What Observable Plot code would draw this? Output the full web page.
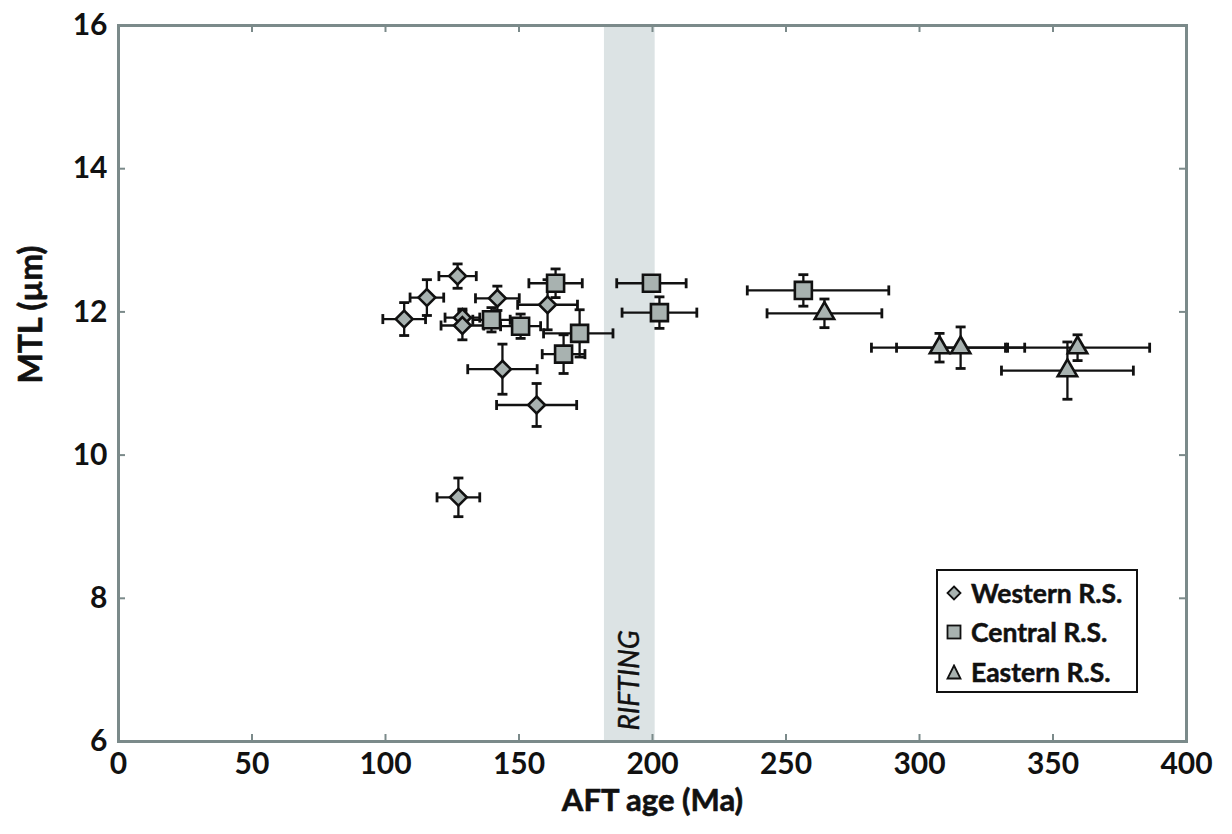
<!DOCTYPE html>
<html><head><meta charset="utf-8">
<script src="https://cdn.jsdelivr.net/npm/d3@7"></script>
<script src="https://cdn.jsdelivr.net/npm/@observablehq/plot@0.6"></script>
<style>
body{margin:0;background:#fff;font-family:Lato,"Open Sans",sans-serif;}
#chart{position:relative;width:1232px;height:834px;}
#legend{position:absolute;left:936px;top:569px;width:202px;height:124px;border:2.5px solid #111;background:#fff;box-sizing:border-box;font-weight:bold;font-size:26.5px;color:#111;padding-top:2px;-webkit-text-stroke:0.5px #111;}
#legend .row{height:39.5px;display:flex;align-items:center;}
#legend svg{margin-left:8px;margin-right:9px;}
</style></head>
<body>
<div id="chart"></div>
<script>
// ---- data ----
const westAge    = [107, 115.5, 127, 128.8, 128.8, 141.9, 160.7, 143.8, 156.6, 127.3];
const westMTL    = [11.9, 12.2, 12.5, 11.92, 11.81, 12.19, 12.1, 11.2, 10.7, 9.41];
const westAgeErr = [8, 6.3, 7, 6.5, 8, 8.2, 11.2, 13, 15, 8];
const westMTLErr = [0.23, 0.25, 0.17, 0.12, 0.2, 0.17, 0.35, 0.35, 0.3, 0.27];

const centAge         = [163.7, 139.7, 150.6, 172.7, 166.7, 199.6, 202.6, 256.5];
const centMTL         = [12.4, 11.89, 11.8, 11.7, 11.41, 12.4, 11.99, 12.3];
const centAgeErrMinus = [10, 7, 7.5, 13.5, 8, 13, 14, 21];
const centAgeErrPlus  = [10, 7, 7.5, 12.5, 8, 13, 14, 32];
const centMTLErr      = [0.2, 0.17, 0.17, 0.33, 0.27, 0.05, 0.22, 0.22];

const eastAge    = [264.4, 307.5, 315.4, 359.2, 355.4];
const eastMTL    = [11.98, 11.5, 11.5, 11.5, 11.18];
const eastAgeErr = [21.5, 25.5, 24, 27, 24.7];
const eastMTLErr = [0.2, 0.2, 0.29, 0.18, 0.4];

const riftingStart = 182, riftingEnd = 201;
const riftingLabel = "RIFTING";
const xTicks = [0, 50, 100, 150, 200, 250, 300, 350, 400];
const yTicks = [6, 8, 10, 12, 14, 16];
const xLabel = "AFT age (Ma)";
const yLabel = "MTL (µm)";
const seriesNames = ["Western R.S.", "Central R.S.", "Eastern R.S."];

// ---- build tables ----
function build(ages, mtls, errMinus, errPlus, mtlErr) {
  return ages.map((a, i) => ({
    age: a, mtl: mtls[i],
    ageLo: a - errMinus[i], ageHi: a + errPlus[i],
    mtlLo: mtls[i] - mtlErr[i], mtlHi: mtls[i] + mtlErr[i]
  }));
}
const west = build(westAge, westMTL, westAgeErr, westAgeErr, westMTLErr);
const cent = build(centAge, centMTL, centAgeErrMinus, centAgeErrPlus, centMTLErr);
const east = build(eastAge, eastMTL, eastAgeErr, eastAgeErr, eastMTLErr);

const W = 1232, H = 834, mL = 118, mR = 46, mT = 25, mB = 93;
const fw = W - mL - mR, fh = H - mT - mB;
const frameColor = "#7b8a8a";
const fillColor = "#a8b2b0";
const ink = "#111";

const capH = {draw(ctx, size) { const h = Math.sqrt(size) / 2; ctx.moveTo(-h, 0); ctx.lineTo(h, 0); }};
const capV = {draw(ctx, size) { const h = Math.sqrt(size) / 2; ctx.moveTo(0, -h); ctx.lineTo(0, h); }};
const capR = 10 / Math.sqrt(Math.PI);

function seriesMarks(data, symbol, r) {
  return [
    Plot.ruleY(data, {y: "mtl", x1: "ageLo", x2: "ageHi", stroke: ink, strokeWidth: 2.3}),
    Plot.ruleX(data, {x: "age", y1: "mtlLo", y2: "mtlHi", stroke: ink, strokeWidth: 2.3}),
    Plot.dot(data, {x: "ageLo", y: "mtl", symbol: capV, r: capR, fill: "none", stroke: ink, strokeWidth: 2.8}),
    Plot.dot(data, {x: "ageHi", y: "mtl", symbol: capV, r: capR, fill: "none", stroke: ink, strokeWidth: 2.8}),
    Plot.dot(data, {x: "age", y: "mtlLo", symbol: capH, r: capR, fill: "none", stroke: ink, strokeWidth: 2.8}),
    Plot.dot(data, {x: "age", y: "mtlHi", symbol: capH, r: capR, fill: "none", stroke: ink, strokeWidth: 2.8}),
    Plot.dot(data, {x: "age", y: "mtl", symbol, r, fill: fillColor, stroke: ink, strokeWidth: 2.6})
  ];
}

const textStroke = {stroke: ink, strokeWidth: 0.6};

const chart = Plot.plot({
  width: W, height: H,
  marginLeft: mL, marginRight: mR, marginTop: mT, marginBottom: mB,
  style: {fontFamily: "Lato, 'Open Sans', sans-serif", fontWeight: "bold", fontSize: "30px", color: "#111", background: "#fff"},
  x: {domain: [0, 400], ticks: xTicks},
  y: {domain: [6, 16], ticks: yTicks},
  marks: [
    Plot.rect([{x1: riftingStart, x2: riftingEnd}], {x1: "x1", x2: "x2", fill: "#dce3e4"}),
    Plot.text([{x: (riftingStart + riftingEnd) / 2, t: riftingLabel}], {
      x: "x", text: "t", frameAnchor: "bottom", rotate: -90, textAnchor: "start", lineAnchor: "middle",
      dy: -11, fontStyle: "italic", fontWeight: "normal", fontSize: 28, fill: ink, stroke: ink, strokeWidth: 0.4
    }),
    // inward ticks on all four sides
    Plot.tickX(xTicks, {x: d => d, insetTop: fh - 7, stroke: frameColor, strokeWidth: 2}),
    Plot.tickX(xTicks, {x: d => d, insetBottom: fh - 7, stroke: frameColor, strokeWidth: 2}),
    Plot.tickY(yTicks, {y: d => d, insetRight: fw - 7, stroke: frameColor, strokeWidth: 2}),
    Plot.tickY(yTicks, {y: d => d, insetLeft: fw - 7, stroke: frameColor, strokeWidth: 2}),
    Plot.axisX({ticks: xTicks, tickSize: 0, tickPadding: 11, label: null, fontSize: 30, fontWeight: "bold", ...textStroke}),
    Plot.axisY({ticks: yTicks, tickSize: 0, tickPadding: 11, label: null, fontSize: 30, fontWeight: "bold", ...textStroke}),
    ...seriesMarks(west, "diamond2", 7.6),
    ...seriesMarks(cent, "square", 9.6),
    ...seriesMarks(east, "triangle", 7.2),
    Plot.frame({stroke: frameColor, strokeWidth: 3}),
    Plot.text([xLabel], {frameAnchor: "bottom", dy: 60, lineAnchor: "middle", fontSize: 31, fontWeight: "bold", fill: ink, ...textStroke}),
    Plot.text([yLabel], {frameAnchor: "left", dx: -87, rotate: -90, lineAnchor: "middle", fontSize: 32, fontWeight: "bold", fill: ink, ...textStroke})
  ]
});
const root = document.getElementById("chart");
root.appendChild(chart);

// legend
const sym = {
  "Western R.S.": '<polygon points="8,1.5 14.5,8 8,14.5 1.5,8" fill="' + fillColor + '" stroke="#111" stroke-width="1.8"/>',
  "Central R.S.": '<rect x="1.5" y="1.5" width="13" height="13" fill="' + fillColor + '" stroke="#111" stroke-width="1.8"/>',
  "Eastern R.S.": '<polygon points="8,1.5 14.5,14.5 1.5,14.5" fill="' + fillColor + '" stroke="#111" stroke-width="1.8"/>'
};
const leg = document.createElement("div");
leg.id = "legend";
leg.innerHTML = seriesNames.map(n =>
  '<div class="row"><svg width="16" height="16" viewBox="0 0 16 16">' + sym[n] + '</svg><span>' + n + '</span></div>'
).join("");
root.appendChild(leg);
</script>
</body></html>
